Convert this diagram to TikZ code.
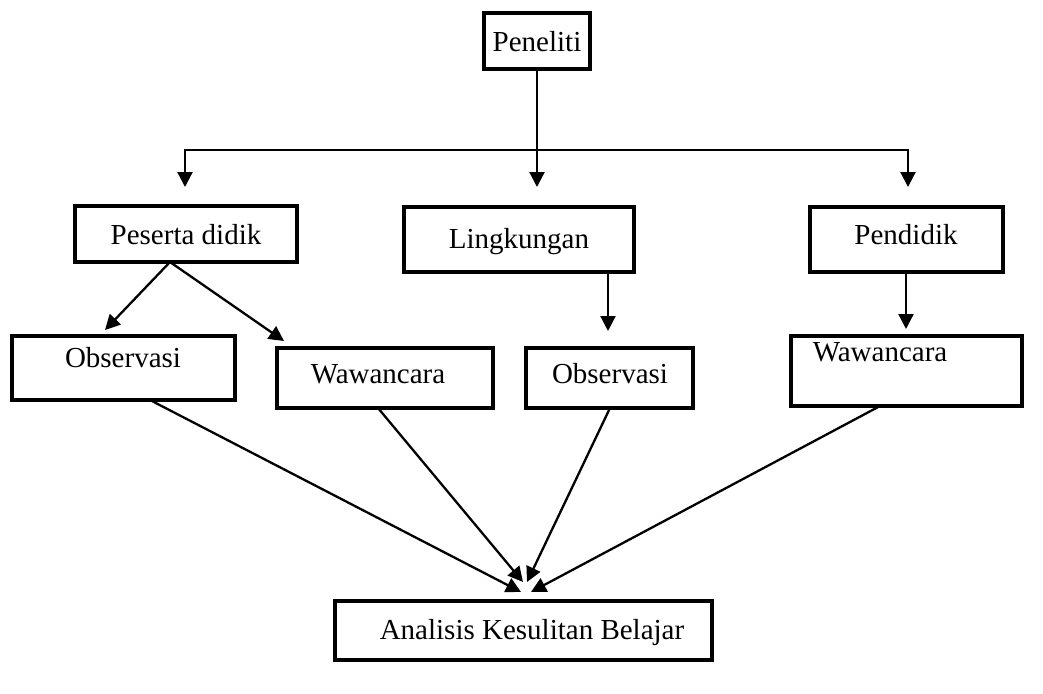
\documentclass[tikz,border=0pt]{standalone}
\usepackage{fontspec}
\setmainfont{Liberation Serif}
\usetikzlibrary{arrows.meta}
\begin{document}
\begin{tikzpicture}[x=1pt,y=-1pt,
  box/.style={draw, line width=3.3pt, inner sep=0pt, fill=white},
  lbl/.style={inner sep=0pt, text height=19pt, text depth=0pt, font=\fontsize{29}{35}\selectfont},
  ln/.style={line width=2.3pt},
  arr/.style={line width=2.3pt, -{Triangle[length=15pt,width=15pt]}}]
\useasboundingbox (0,0) rectangle (1043,693);
% boxes
\node[box, minimum width=106pt, minimum height=56pt] (pen) at (537,41) {};
\node[box, minimum width=222pt, minimum height=56pt] (pes) at (186,234) {};
\node[box, minimum width=230pt, minimum height=65pt] (lin) at (519,239.5) {};
\node[box, minimum width=193pt, minimum height=65pt] (pdk) at (906.5,239.5) {};
\node[box, minimum width=223pt, minimum height=64pt] (obsA) at (123.5,368) {};
\node[box, minimum width=216pt, minimum height=60pt] (wawA) at (385,378) {};
\node[box, minimum width=167pt, minimum height=60pt] (obsB) at (609.5,378) {};
\node[box, minimum width=231pt, minimum height=70pt] (wawB) at (906.5,371) {};
\node[box, minimum width=377pt, minimum height=59pt] (ana) at (523.5,630.5) {};
% labels
\node[lbl] (penT) at (537,42) {Peneliti};
\node[lbl] (pesT) at (186,235) {Peserta didik};
\node[lbl] (linT) at (519,239) {Lingkungan};
\node[lbl] (pdkT) at (906,235) {Pendidik};
\node[lbl] (obsAT) at (123,358) {Observasi};
\node[lbl] (wawAT) at (378,374) {Wawancara};
\node[lbl] (obsBT) at (610,374) {Observasi};
\node[lbl] (wawBT) at (880,352) {Wawancara};
\node[lbl] (anaT) at (532,630) {Analisis Kesulitan Belajar};
% top distribution
\coordinate (hL) at (185,150);
\coordinate (hM) at (537,150);
\coordinate (hR) at (908,150);
\coordinate (tL) at (185,187);
\coordinate (tM) at (537,187);
\coordinate (tR) at (908,187);
\draw[ln] (pen.south) -- (hM);
\draw[arr] (hM) -- (hL) -- (tL);
\draw[arr] (hM) -- (hR) -- (tR);
\draw[arr] (hM) -- (tM);
% second level
\coordinate (pesB) at (170,262);
\coordinate (tObsA) at (105,330);
\coordinate (tWawA) at (284,341);
\draw[arr] (pesB) -- (tObsA);
\draw[arr] (pesB) -- (tWawA);
\coordinate (linB) at (608,272);
\coordinate (tObsB) at (608,331);
\draw[arr] (linB) -- (tObsB);
\coordinate (pdkB) at (906,272);
\coordinate (tWawB) at (906,329);
\draw[arr] (pdkB) -- (tWawB);
% to analysis
\coordinate (obsAb) at (150,400);
\coordinate (wawAb) at (378,408);
\coordinate (obsBb) at (610,408);
\coordinate (wawBb) at (880,406);
\coordinate (e1) at (521,592);
\coordinate (e2) at (523,582);
\coordinate (e3) at (527,582);
\coordinate (e4) at (531,592);
\draw[arr] (obsAb) -- (e1);
\draw[arr] (wawAb) -- (e2);
\draw[arr] (obsBb) -- (e3);
\draw[arr] (wawBb) -- (e4);
\end{tikzpicture}
\end{document}
